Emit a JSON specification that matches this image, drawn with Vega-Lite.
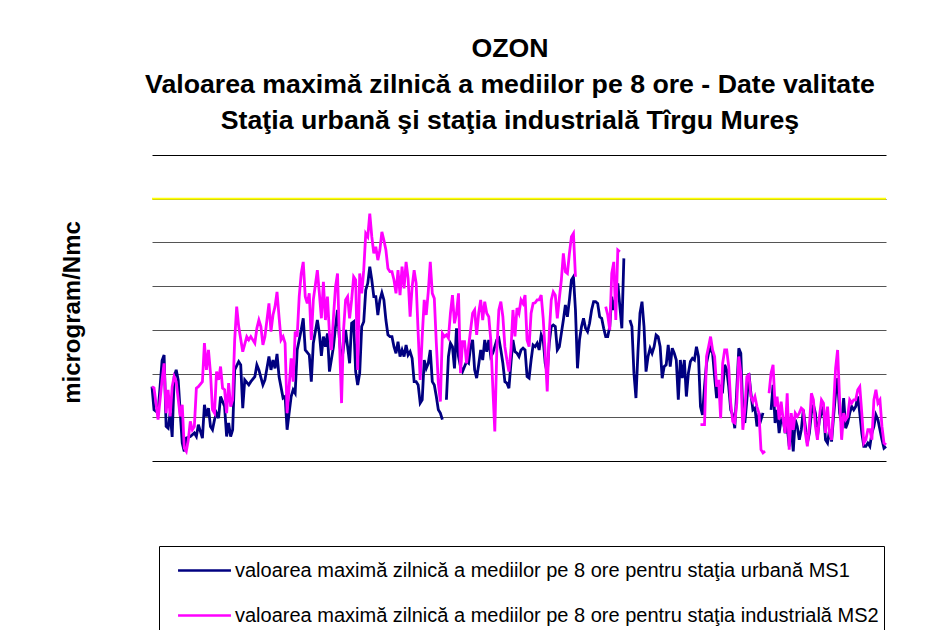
{
  "$schema": "https://vega.github.io/schema/vega-lite/v6.json",
  "width": 734,
  "height": 306,
  "autosize": {"type": "none"},
  "padding": {"left": 152, "top": 155, "right": 58, "bottom": 169},
  "background": "white",
  "config": {"view": {"stroke": null}, "font": "Liberation Sans"},
  "title": {
    "text": ["OZON", "Valoarea maximă zilnică a mediilor pe 8 ore - Date valitate", "Staţia urbană şi staţia industrială Tîrgu Mureş"],
    "font": "Liberation Sans", "fontSize": 26.7, "fontWeight": "bold", "color": "black",
    "anchor": "middle", "frame": "group", "lineHeight": 36, "baseline": "alphabetic", "offset": 27, "dx": -9, "dy": 28
  },
  "layer": [
    {
      "data": {"values": [{"prag": 120}]},
      "mark": {"type": "rule", "color": "#FFFF00", "strokeWidth": 2},
      "encoding": {"y": {"field": "prag", "type": "quantitative", "title": "microgram/Nmc"}}
    },
    {
      "data": {"values": [
{"zi":0,"MS1":34,"MS2":34},{"zi":1,"MS1":23.4,"MS2":33.5},{"zi":3,"MS1":22,"MS2":18.9},{"zi":5,"MS1":46,"MS2":37.1},{"zi":6,"MS1":48.5,"MS2":44.7},{"zi":7,"MS1":15.8,"MS2":21.9},{"zi":8,"MS1":15,"MS2":32.6},{"zi":9,"MS1":22,"MS2":20.4},{"zi":10,"MS1":11,"MS2":34},{"zi":11,"MS1":38.6,"MS2":38.6},{"zi":12,"MS1":41.7,"MS2":36.3},{"zi":13,"MS1":37},{"zi":14,"MS1":22,"MS2":20.4},{"zi":15,"MS1":8.2,"MS2":25.7},{"zi":16,"MS1":4.4,"MS2":5.9},{"zi":17,"MS1":10.5,"MS2":4.4},{"zi":18,"MS2":9.7},{"zi":19,"MS1":11.2,"MS2":18.1},{"zi":20,"MS2":14.3},{"zi":21,"MS1":12.8,"MS2":15.8},{"zi":22,"MS1":11.2,"MS2":33.3},{"zi":23,"MS1":16.6,"MS2":34},{"zi":25,"MS1":10.5,"MS2":36.3},{"zi":26,"MS1":25.7,"MS2":53.9},{"zi":27,"MS1":20.4,"MS2":41.7},{"zi":28,"MS1":24.2,"MS2":50.8},{"zi":29,"MS1":15.8,"MS2":40.2},{"zi":30,"MS1":14.3,"MS2":23.4},{"zi":31,"MS1":18.9,"MS2":21.9},{"zi":32,"MS1":21.9,"MS2":40.9},{"zi":33,"MS1":19.6,"MS2":37.1},{"zi":34,"MS1":29.5,"MS2":43.2},{"zi":35,"MS2":33.3},{"zi":36,"MS1":24.9,"MS2":32.6},{"zi":37,"MS1":11.2,"MS2":21.9},{"zi":38,"MS1":17.4,"MS2":35.6},{"zi":39,"MS1":11.2,"MS2":24.9},{"zi":40,"MS1":14.3,"MS2":28},{"zi":41,"MS1":41.7,"MS2":55.4},{"zi":42,"MS2":70.6},{"zi":43,"MS1":45.5,"MS2":61.5},{"zi":44,"MS1":44},{"zi":45,"MS1":24.2,"MS2":50},{"zi":46,"MS1":37.1},{"zi":47,"MS2":56.9},{"zi":48,"MS1":34.8,"MS2":55.4},{"zi":49,"MS1":36.3,"MS2":56.9},{"zi":51,"MS1":38.6,"MS2":53.9},{"zi":52,"MS1":44,"MS2":60.7},{"zi":53,"MS1":41.7,"MS2":64.5},{"zi":54,"MS2":61.5},{"zi":55,"MS1":34.8,"MS2":53.1},{"zi":56,"MS1":37.1,"MS2":56.9},{"zi":58,"MS1":47.8,"MS2":72.1},{"zi":59,"MS1":41.7,"MS2":59.2},{"zi":60,"MS1":46.2,"MS2":66.8},{"zi":61,"MS1":42.4,"MS2":70.6},{"zi":62,"MS1":49,"MS2":77.4},{"zi":63,"MS1":38.6,"MS2":66},{"zi":64,"MS2":55.4},{"zi":65,"MS1":28.8,"MS2":56.9},{"zi":66,"MS1":29.5,"MS2":53.9},{"zi":67,"MS1":14.3,"MS2":21.9},{"zi":68,"MS1":21.9,"MS2":34},{"zi":69,"MS1":29.5,"MS2":47},{"zi":70,"MS1":32.6,"MS2":36.3},{"zi":71,"MS1":31,"MS2":59.2},{"zi":72,"MS1":50.8,"MS2":56.9},{"zi":73,"MS2":75.2},{"zi":74,"MS1":60,"MS2":85.8},{"zi":75,"MS1":65.3,"MS2":91.1},{"zi":76,"MS1":50.8,"MS2":75.2},{"zi":77,"MS2":72.1},{"zi":78,"MS1":48.5,"MS2":76.7},{"zi":79,"MS1":36.3,"MS2":55.4},{"zi":80,"MS1":53.9,"MS2":73.7},{"zi":82,"MS1":64.5,"MS2":87.3},{"zi":83,"MS1":58.4,"MS2":76.7},{"zi":84,"MS1":48.1,"MS2":65.3},{"zi":85,"MS1":56.9,"MS2":82},{"zi":86,"MS1":52.3,"MS2":64.5},{"zi":87,"MS1":58.4,"MS2":75.2},{"zi":88,"MS1":40.9,"MS2":58.4},{"zi":89,"MS2":50.8},{"zi":90,"MS1":52.3,"MS2":66},{"zi":91,"MS1":61.5,"MS2":79.7},{"zi":92,"MS1":69.1,"MS2":85.8},{"zi":93,"MS1":55,"MS2":53.9},{"zi":94,"MS1":45,"MS2":26.5},{"zi":95,"MS1":52,"MS2":60},{"zi":96,"MS1":60,"MS2":73.7},{"zi":97,"MS2":75.2},{"zi":98,"MS1":44.7,"MS2":65.3},{"zi":99,"MS1":63,"MS2":73.7},{"zi":100,"MS1":63.7,"MS2":84.3},{"zi":101,"MS1":40.9,"MS2":82.8},{"zi":102,"MS1":34.8,"MS2":41.7},{"zi":103,"MS1":40.2,"MS2":85.8},{"zi":104,"MS1":61.5,"MS2":76.7},{"zi":105,"MS1":63.7,"MS2":87.3},{"zi":106,"MS1":78.2,"MS2":104.1},{"zi":107,"MS1":81.3,"MS2":102.6},{"zi":108,"MS1":88.9,"MS2":113.2},{"zi":109,"MS1":82.8,"MS2":102.6},{"zi":110,"MS1":75.2,"MS2":95},{"zi":111,"MS1":75.2,"MS2":98},{"zi":112,"MS1":66.8,"MS2":91.9},{"zi":113,"MS1":73.7,"MS2":96.5},{"zi":114,"MS1":77,"MS2":104.8},{"zi":115,"MS1":73.7,"MS2":101},{"zi":116,"MS1":64.5,"MS2":96.5},{"zi":117,"MS1":57.7,"MS2":88.1},{"zi":118,"MS1":56.9,"MS2":86.6},{"zi":119,"MS1":56.9,"MS2":86.6},{"zi":120,"MS1":52.3,"MS2":82.8},{"zi":121,"MS1":49.3,"MS2":76.7},{"zi":122,"MS1":54.6,"MS2":87.3},{"zi":123,"MS1":47.8,"MS2":75.9},{"zi":124,"MS1":50.8,"MS2":88.9},{"zi":125,"MS1":47.8,"MS2":79},{"zi":126,"MS1":53.1,"MS2":91.1},{"zi":127,"MS1":48.5,"MS2":83.6},{"zi":128,"MS1":50,"MS2":66},{"zi":129,"MS1":47,"MS2":79.7},{"zi":130,"MS1":36.3,"MS2":87.3},{"zi":131,"MS1":36.3,"MS2":81.3},{"zi":132,"MS1":34.8,"MS2":58.4},{"zi":133,"MS1":26.5,"MS2":37.1},{"zi":134,"MS1":28,"MS2":56.9},{"zi":135,"MS1":46.2,"MS2":73.7},{"zi":136,"MS1":42.4,"MS2":66.8},{"zi":137,"MS1":44.7,"MS2":77.4},{"zi":138,"MS1":50.8,"MS2":91.1},{"zi":139,"MS1":36.3,"MS2":76.7},{"zi":140,"MS1":34.8,"MS2":74.4},{"zi":141,"MS1":29.5,"MS2":53.9},{"zi":142,"MS1":23.4,"MS2":35.6},{"zi":143,"MS1":21.9,"MS2":27.2},{"zi":144,"MS1":18.9,"MS2":58.4},{"zi":145,"MS1":null,"MS2":56.9},{"zi":146,"MS1":28,"MS2":57.7},{"zi":147,"MS1":47.8,"MS2":56.2},{"zi":148,"MS1":53.9,"MS2":67.6},{"zi":149,"MS1":52.3,"MS2":75.9},{"zi":150,"MS1":42.4,"MS2":63},{"zi":151,"MS1":60.7,"MS2":67.6},{"zi":152,"MS1":47.8,"MS2":76.7},{"zi":153,"MS1":43.2,"MS2":40.2},{"zi":154,"MS1":40.9,"MS2":54.6},{"zi":155,"MS1":43.2,"MS2":54.6},{"zi":156,"MS1":45.5,"MS2":44.7},{"zi":157,"MS1":44.7,"MS2":52.3},{"zi":158,"MS1":52.3},{"zi":159,"MS1":55.4,"MS2":67.6},{"zi":160,"MS1":41.7,"MS2":69.1},{"zi":161,"MS1":37.9,"MS2":57.7},{"zi":162,"MS1":44,"MS2":67.6},{"zi":163,"MS1":50.8,"MS2":73.7},{"zi":164,"MS1":46.2,"MS2":64.5},{"zi":165,"MS1":55.4,"MS2":72.9},{"zi":166,"MS1":50,"MS2":67.6},{"zi":167,"MS1":55.4,"MS2":66},{"zi":168,"MS1":47.8,"MS2":55.4},{"zi":169,"MS1":49.3,"MS2":34},{"zi":170,"MS1":52.3,"MS2":13.5},{"zi":171,"MS1":55.4,"MS2":50.8},{"zi":172,"MS1":56.2,"MS2":69.1},{"zi":173,"MS1":50.8,"MS2":72.9},{"zi":174,"MS1":44.7,"MS2":66},{"zi":175,"MS1":36.3,"MS2":52.3},{"zi":176,"MS1":35.6,"MS2":46.2},{"zi":177,"MS1":33.3,"MS2":40.9},{"zi":178,"MS1":44.7,"MS2":50.8},{"zi":179,"MS1":55.4,"MS2":69.1},{"zi":180,"MS1":50,"MS2":57},{"zi":181,"MS1":49.3,"MS2":70},{"zi":182,"MS1":47.8,"MS2":67.6},{"zi":183,"MS1":50.8,"MS2":73.7},{"zi":184,"MS1":51.6,"MS2":72.1},{"zi":185,"MS1":50.8,"MS2":75.9},{"zi":186,"MS1":38.6,"MS2":55.4},{"zi":187,"MS1":37.9,"MS2":52.3},{"zi":188,"MS1":46.2,"MS2":67.6},{"zi":189,"MS1":53.1,"MS2":72.1},{"zi":190,"MS1":52.3,"MS2":72.4},{"zi":191,"MS1":53.9,"MS2":73.7},{"zi":192,"MS1":50.8,"MS2":73.7},{"zi":193,"MS1":57.7,"MS2":75.9},{"zi":194,"MS1":55.4,"MS2":65.3},{"zi":195,"MS1":44.7,"MS2":49.3},{"zi":196,"MS1":40.2,"MS2":31.8},{"zi":197,"MS1":53.9,"MS2":58.4},{"zi":198,"MS1":61.5,"MS2":73.7},{"zi":199,"MS1":62.2,"MS2":77.4},{"zi":200,"MS1":61.5,"MS2":75.9},{"zi":201,"MS1":50.8,"MS2":65.3},{"zi":202,"MS1":52.3,"MS2":74.4},{"zi":203,"MS1":58.4,"MS2":82.8},{"zi":204,"MS1":64.5,"MS2":95},{"zi":205,"MS1":71.4,"MS2":86.6},{"zi":206,"MS1":66,"MS2":85.8},{"zi":207,"MS1":73.7,"MS2":95},{"zi":208,"MS1":82.8,"MS2":102.6},{"zi":209,"MS1":84.3,"MS2":104.1},{"zi":210,"MS1":69.1,"MS2":84.3},{"zi":211,"MS1":42.4,"MS2":null},{"zi":212,"MS1":55.4},{"zi":213,"MS1":61.5},{"zi":214,"MS1":65.3},{"zi":215,"MS1":60.7},{"zi":216,"MS1":59.2},{"zi":217,"MS1":63},{"zi":218,"MS1":69.1},{"zi":219,"MS1":72.9},{"zi":220,"MS1":72.9},{"zi":221,"MS1":72.1},{"zi":222,"MS1":66},{"zi":223,"MS1":65.3},{"zi":224,"MS1":60.7},{"zi":225,"MS1":56.9,"MS2":70.6},{"zi":226,"MS1":56.9,"MS2":66.8},{"zi":227,"MS1":61.5,"MS2":60},{"zi":228,"MS1":75.2,"MS2":85.8},{"zi":229,"MS1":69.1,"MS2":91.1},{"zi":230,"MS1":75.2,"MS2":64.5},{"zi":231,"MS1":81.3,"MS2":96.5},{"zi":232,"MS2":95.7},{"zi":233,"MS1":60.7,"MS2":null},{"zi":234,"MS1":92.7},{"zi":235,"MS1":null},{"zi":237,"MS1":64.5},{"zi":238,"MS1":61.5},{"zi":239,"MS1":40.2},{"zi":240,"MS1":28.8},{"zi":241,"MS1":50},{"zi":242,"MS1":67.6},{"zi":243,"MS1":72.9},{"zi":244,"MS1":61.5},{"zi":245,"MS1":40.9},{"zi":246,"MS1":47.8},{"zi":247,"MS1":51.6},{"zi":248,"MS1":49.3},{"zi":249,"MS1":52.3},{"zi":250,"MS1":57.7},{"zi":251,"MS1":56.9},{"zi":252,"MS1":52.3},{"zi":253,"MS1":37.9},{"zi":254,"MS1":43.2},{"zi":255,"MS1":44},{"zi":256,"MS1":53.1},{"zi":257,"MS1":43.2},{"zi":258,"MS1":51.6},{"zi":259,"MS1":49.3},{"zi":260,"MS1":46.2},{"zi":261,"MS1":28},{"zi":262,"MS1":46.2},{"zi":263,"MS1":37.9},{"zi":264,"MS1":46.2},{"zi":265,"MS1":29.5},{"zi":266,"MS1":40.2},{"zi":267,"MS1":45.5},{"zi":268,"MS1":47},{"zi":269,"MS1":46.2},{"zi":270,"MS1":52.3},{"zi":271,"MS1":47.8},{"zi":272,"MS1":24.9,"MS2":16.6},{"zi":273,"MS1":21.1},{"zi":274,"MS1":34,"MS2":16.6},{"zi":275,"MS1":44.7,"MS2":47.8},{"zi":276,"MS1":49.3,"MS2":52.3},{"zi":277,"MS1":51.6,"MS2":56.9},{"zi":278,"MS1":49.3,"MS2":50.8},{"zi":279,"MS1":38.6,"MS2":47.8},{"zi":280,"MS1":28.8,"MS2":34},{"zi":281,"MS1":34.8,"MS2":37.1},{"zi":282,"MS1":34,"MS2":19.6},{"zi":283,"MS1":32.6,"MS2":44.7},{"zi":284,"MS1":44,"MS2":50.8},{"zi":285,"MS1":41.7,"MS2":50.8},{"zi":286,"MS1":34,"MS2":43.2},{"zi":287,"MS1":23.4,"MS2":26.5},{"zi":288,"MS1":21.1,"MS2":18.1},{"zi":289,"MS1":15,"MS2":17.4},{"zi":290,"MS1":32.6,"MS2":26.5},{"zi":291,"MS1":51.6,"MS2":47.8},{"zi":292,"MS1":49.3,"MS2":40.2},{"zi":293,"MS1":21.9,"MS2":14.3},{"zi":294,"MS1":17.4,"MS2":23.4},{"zi":295,"MS1":28,"MS2":38.6},{"zi":296,"MS1":40.2,"MS2":39.4},{"zi":297,"MS1":31,"MS2":29.5},{"zi":298,"MS1":23.4,"MS2":27.2},{"zi":299,"MS1":24.2,"MS2":29.5},{"zi":300,"MS1":15.8,"MS2":24.9},{"zi":301,"MS1":21.9,"MS2":21.9},{"zi":302,"MS1":18.9,"MS2":5.2},{"zi":303,"MS1":22,"MS2":3.7},{"zi":304,"MS1":null,"MS2":4.5},{"zi":305,"MS2":null},{"zi":306,"MS2":31},{"zi":307,"MS1":23.4,"MS2":40.2},{"zi":308,"MS1":34.8,"MS2":44},{"zi":309,"MS1":17.4,"MS2":24.9},{"zi":310,"MS1":23.4,"MS2":29.5},{"zi":311,"MS1":12.8,"MS2":18.9},{"zi":312,"MS1":18.9,"MS2":27.2},{"zi":313,"MS1":18.9,"MS2":18.9},{"zi":314,"MS1":12.8,"MS2":12.8},{"zi":315,"MS1":15.8,"MS2":31},{"zi":316,"MS1":6.7,"MS2":5.2},{"zi":317,"MS1":15.8,"MS2":21.9},{"zi":318,"MS1":4.4,"MS2":14.3},{"zi":319,"MS1":18.9,"MS2":21.9},{"zi":320,"MS1":15.8,"MS2":20.4},{"zi":321,"MS1":9.7,"MS2":21.9},{"zi":322,"MS1":14.3,"MS2":24.2},{"zi":323,"MS1":23.4,"MS2":23.4},{"zi":324,"MS1":15.8,"MS2":12.8},{"zi":325,"MS1":8.2,"MS2":6.7},{"zi":326,"MS1":12.8,"MS2":15.8},{"zi":327,"MS1":21.9,"MS2":31},{"zi":328,"MS1":25.7,"MS2":28},{"zi":329,"MS1":21.9,"MS2":15.8},{"zi":330,"MS1":11.2,"MS2":9.7},{"zi":331,"MS1":18.9,"MS2":20.4},{"zi":332,"MS1":21.9,"MS2":28},{"zi":333,"MS1":24.9,"MS2":26.5},{"zi":334,"MS1":9.7,"MS2":12.8},{"zi":335,"MS1":8.2,"MS2":24.9},{"zi":336,"MS1":14.3,"MS2":12.8},{"zi":337,"MS1":8.9,"MS2":9.7},{"zi":338,"MS1":20.4,"MS2":24.9},{"zi":339,"MS1":31,"MS2":42.4},{"zi":340,"MS1":37.9,"MS2":50.8},{"zi":341,"MS1":21.9,"MS2":28},{"zi":342,"MS1":17.4,"MS2":9.7},{"zi":343,"MS1":28.8,"MS2":21.9},{"zi":344,"MS1":15,"MS2":18.9},{"zi":345,"MS1":17.4,"MS2":20.4},{"zi":346,"MS1":21.9,"MS2":28},{"zi":347,"MS1":24.9,"MS2":26.5},{"zi":348,"MS1":23.4,"MS2":28},{"zi":349,"MS1":24.9,"MS2":28},{"zi":350,"MS1":29.5,"MS2":32.6},{"zi":351,"MS1":21.9,"MS2":34},{"zi":352,"MS1":12.8,"MS2":21.9},{"zi":353,"MS1":6.7,"MS2":8.2},{"zi":354,"MS1":6.7,"MS2":9.7},{"zi":355,"MS1":8.2,"MS2":14.3},{"zi":356,"MS1":6.7,"MS2":14.3},{"zi":357,"MS1":12.8,"MS2":9.7},{"zi":358,"MS1":15.8,"MS2":28},{"zi":359,"MS1":21.1,"MS2":32.6},{"zi":360,"MS1":18.9,"MS2":26.5},{"zi":361,"MS1":14.3,"MS2":28},{"zi":362,"MS1":9.7,"MS2":15.8},{"zi":363,"MS1":5.9,"MS2":8.2},{"zi":364,"MS1":6.7,"MS2":7.4}
      ]},
      "transform": [
        {"fold": ["MS1", "MS2"], "as": ["statie", "val"]},
        {"filter": "isDefined(datum.val)"}
      ],
      "mark": {"type": "line", "strokeWidth": 2.8, "invalid": "break-paths-show-domains"},
      "encoding": {
        "x": {"field": "zi", "type": "quantitative", "scale": {"domain": [0, 364], "nice": false, "zero": false}, "axis": null},
        "y": {
          "field": "val", "type": "quantitative",
          "scale": {"domain": [0, 140], "nice": false},
          "axis": {
            "title": "microgram/Nmc", "values": [0, 20, 40, 60, 80, 100, 120, 140],
            "labels": false, "ticks": false, "domain": false, "grid": true,
            "gridColor": {"condition": {"test": "datum.value === 0 || datum.value === 140", "value": "#000000"}, "value": "#555555"},
            "gridWidth": 1, "gridOpacity": 1, "minExtent": 0,
            "titleFont": "Liberation Sans", "titleFontSize": 24, "titleFontWeight": "bold", "titleColor": "black",
            "titleX": -73, "titleY": 157, "titleAngle": 270, "titleAlign": "center", "titleBaseline": "alphabetic"
          }
        },
        "color": {
          "field": "statie", "type": "nominal",
          "scale": {"domain": ["MS1", "MS2"], "range": ["#000080", "#FF00FF"]},
          "legend": {
            "orient": "none", "legendX": 7, "legendY": 391, "direction": "vertical", "title": null,
            "symbolType": "M-1.47,0H1.47", "symbolSize": 1296, "symbolStrokeWidth": 2.5, "symbolOffset": 21,
            "labelFont": "Liberation Sans", "labelFontSize": 20, "labelColor": "black", "labelLimit": 1000, "labelOffset": 11,
            "strokeColor": "black", "fillColor": "white", "padding": 5, "rowPadding": 15,
            "labelExpr": "datum.label === 'MS1' ? 'valoarea maximă zilnică a mediilor pe 8 ore pentru staţia urbană MS1' : 'valoarea maximă zilnică a mediilor pe 8 ore pentru staţia industrială MS2'"
          }
        }
      }
    }
  ]
}
